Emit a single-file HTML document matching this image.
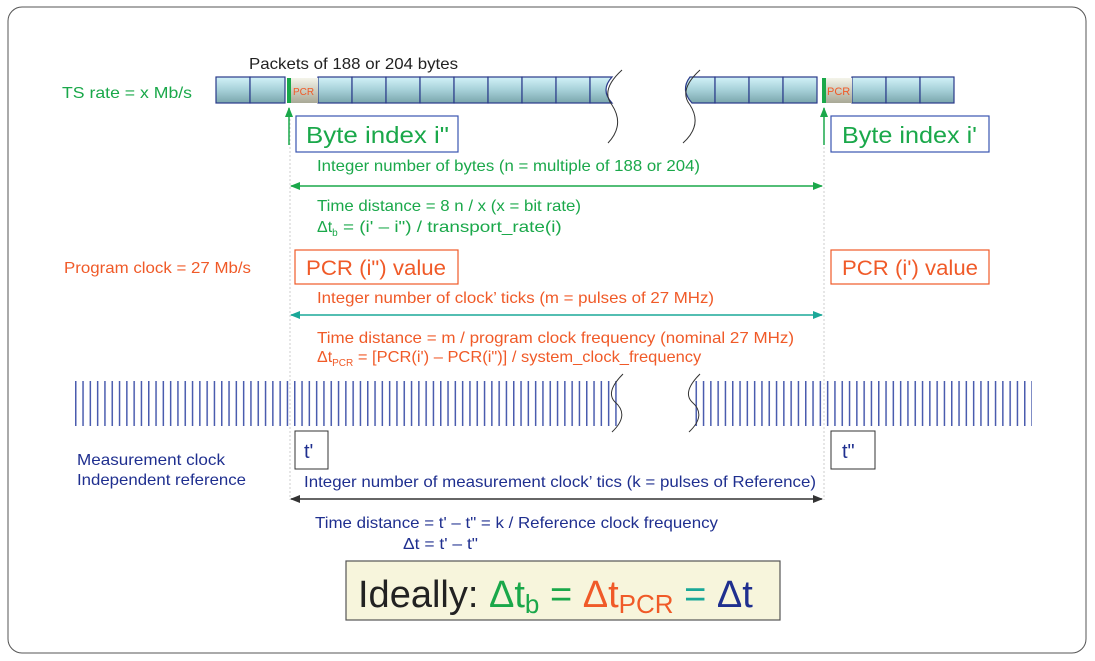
<!DOCTYPE html>
<html><head><meta charset="utf-8"><style>
html,body{margin:0;padding:0;background:#fff;}
svg{display:block;font-family:"Liberation Sans",Arial,sans-serif;}
</style></head><body>
<svg width="1095" height="661" viewBox="0 0 1095 661" xmlns="http://www.w3.org/2000/svg">
<defs>
<linearGradient id="cell" x1="0" y1="0" x2="0" y2="1"><stop offset="0" stop-color="#d2f2f8"/><stop offset="0.5" stop-color="#a6d0d8"/><stop offset="1" stop-color="#7aa6ac"/></linearGradient>
<linearGradient id="pcr" x1="0" y1="0" x2="0" y2="1"><stop offset="0" stop-color="#f4f4ea"/><stop offset="1" stop-color="#a8a896"/></linearGradient>
<pattern id="ticks" x="75" y="0" width="7.3" height="50" patternUnits="userSpaceOnUse"><rect x="0" y="0" width="1.5" height="50" fill="#2a3fa0"/></pattern>
<marker id="ag" markerWidth="10" markerHeight="8" refX="9" refY="4" orient="auto-start-reverse" markerUnits="userSpaceOnUse"><path d="M0,0 L10,4 L0,8z" fill="#1aa84a"/></marker>
<marker id="at" markerWidth="10" markerHeight="8" refX="9" refY="4" orient="auto-start-reverse" markerUnits="userSpaceOnUse"><path d="M0,0 L10,4 L0,8z" fill="#1aa898"/></marker>
<marker id="ak" markerWidth="10" markerHeight="8" refX="9" refY="4" orient="auto-start-reverse" markerUnits="userSpaceOnUse"><path d="M0,0 L10,4 L0,8z" fill="#333"/></marker>
</defs>
<rect x="8" y="7" width="1078" height="646" rx="14" fill="#fff" stroke="#555" stroke-width="1"/>
<line x1="290" y1="115" x2="290" y2="500" stroke="#ccc" stroke-dasharray="2,2"/>
<line x1="824" y1="115" x2="824" y2="500" stroke="#ccc" stroke-dasharray="2,2"/>

<g font-size="16" lengthAdjust="spacingAndGlyphs">
<text x="249" y="69" fill="#222" textLength="209" lengthAdjust="spacingAndGlyphs">Packets of 188 or 204 bytes</text>
<text x="62" y="98" fill="#1aa84a" textLength="130" lengthAdjust="spacingAndGlyphs">TS rate = x Mb/s</text>
<text x="317" y="171" fill="#1aa84a" textLength="383" lengthAdjust="spacingAndGlyphs">Integer number of bytes (n = multiple of 188 or 204)</text>
<text x="317" y="211" fill="#1aa84a" textLength="264" lengthAdjust="spacingAndGlyphs">Time distance = 8 n / x (x = bit rate)</text>
<text x="317" y="232" fill="#1aa84a">Δt<tspan font-size="10" dy="4">b</tspan><tspan dy="-4" textLength="224" lengthAdjust="spacingAndGlyphs"> = (i' – i") / transport_rate(i)</tspan></text>
<text x="64" y="273" fill="#f05a28" textLength="187" lengthAdjust="spacingAndGlyphs">Program clock = 27 Mb/s</text>
<text x="317" y="303" fill="#f05a28" textLength="397" lengthAdjust="spacingAndGlyphs">Integer number of clock’ ticks (m = pulses of 27 MHz)</text>
<text x="317" y="343" fill="#f05a28" textLength="477" lengthAdjust="spacingAndGlyphs">Time distance = m / program clock frequency  (nominal 27 MHz)</text>
<text x="317" y="362" fill="#f05a28">Δt<tspan font-size="10" dy="4">PCR</tspan><tspan dy="-4" textLength="348" lengthAdjust="spacingAndGlyphs"> = [PCR(i') – PCR(i")] / system_clock_frequency</tspan></text>
<text x="77" y="465" fill="#1f2f8f" textLength="148" lengthAdjust="spacingAndGlyphs">Measurement clock</text>
<text x="77" y="485" fill="#1f2f8f" textLength="169" lengthAdjust="spacingAndGlyphs">Independent reference</text>
<text x="304" y="487" fill="#1f2f8f" textLength="512" lengthAdjust="spacingAndGlyphs">Integer number of measurement clock’ tics (k = pulses of Reference)</text>
<text x="315" y="528" fill="#1f2f8f" textLength="403" lengthAdjust="spacingAndGlyphs">Time distance = t' – t" = k / Reference clock frequency</text>
<text x="403" y="549" fill="#1f2f8f" textLength="75" lengthAdjust="spacingAndGlyphs">Δt = t' – t"</text>
</g>

<g stroke="#2a3a8a" stroke-width="1.2" fill="url(#cell)">
<rect x="216" y="77" width="34" height="26"/><rect x="250" y="77" width="35" height="26"/>
<rect x="318" y="77" width="34" height="26"/><rect x="352" y="77" width="34" height="26"/><rect x="386" y="77" width="34" height="26"/><rect x="420" y="77" width="34" height="26"/><rect x="454" y="77" width="34" height="26"/><rect x="488" y="77" width="34" height="26"/><rect x="522" y="77" width="34" height="26"/><rect x="556" y="77" width="34" height="26"/>
<path d="M590,77 L612,77 Q600,90 612,103 L590,103z"/>
<path d="M690,77 Q680,90 692,103 L715,103 L715,77z"/>
<rect x="715" y="77" width="34" height="26"/><rect x="749" y="77" width="34" height="26"/><rect x="783" y="77" width="34" height="26"/>
<rect x="852" y="77" width="34" height="26"/><rect x="886" y="77" width="34" height="26"/><rect x="920" y="77" width="34" height="26"/>
</g>
<rect x="291" y="78" width="27" height="25" fill="url(#pcr)"/>
<rect x="826" y="78" width="26" height="25" fill="url(#pcr)"/>
<rect x="287" y="78" width="4" height="25" fill="#1aa84a"/>
<rect x="822" y="78" width="4" height="25" fill="#1aa84a"/>
<text x="293" y="95" font-size="10" fill="#f05a28">PCR</text>
<text x="827" y="95" font-size="11" fill="#f05a28">PCR</text>
<path d="M622,70 Q600,90 612,105 Q625,125 608,143" fill="none" stroke="#333" stroke-width="1"/>
<path d="M700,70 Q678,90 690,105 Q703,125 683,143" fill="none" stroke="#333" stroke-width="1"/>
<line x1="289" y1="145" x2="289" y2="108" stroke="#1aa84a" stroke-width="1.5" marker-end="url(#ag)"/>
<line x1="824" y1="145" x2="824" y2="108" stroke="#1aa84a" stroke-width="1.5" marker-end="url(#ag)"/>
<rect x="296" y="116" width="162" height="36" fill="#fff" stroke="#3a55b0" stroke-width="1.2"/>
<text x="306" y="143" font-size="23" fill="#1aa84a" textLength="143" lengthAdjust="spacingAndGlyphs">Byte index i"</text>
<rect x="831" y="116" width="158" height="36" fill="#fff" stroke="#3a55b0" stroke-width="1.2"/>
<text x="842" y="143" font-size="23" fill="#1aa84a" textLength="135" lengthAdjust="spacingAndGlyphs">Byte index i'</text>
<line x1="291" y1="186" x2="822" y2="186" stroke="#1aa84a" stroke-width="1.5" marker-start="url(#ag)" marker-end="url(#ag)"/>

<rect x="295" y="250" width="163" height="34" fill="#fff" stroke="#f05a28" stroke-width="1.2"/>
<text x="306" y="275" font-size="21" fill="#f05a28" textLength="140" lengthAdjust="spacingAndGlyphs">PCR (i") value</text>
<rect x="831" y="250" width="158" height="34" fill="#fff" stroke="#f05a28" stroke-width="1.2"/>
<text x="842" y="275" font-size="21" fill="#f05a28" textLength="136" lengthAdjust="spacingAndGlyphs">PCR (i') value</text>
<line x1="291" y1="315" x2="822" y2="315" stroke="#1aa898" stroke-width="1.5" marker-start="url(#at)" marker-end="url(#at)"/>

<rect x="75" y="381" width="547" height="45" fill="url(#ticks)" opacity="0.85"/>
<rect x="694" y="381" width="338" height="45" fill="url(#ticks)" opacity="0.85"/>
<path d="M623,374 Q605,392 615,402 Q630,415 612,432" fill="none" stroke="#333" stroke-width="1"/>
<path d="M700,374 Q682,392 692,402 Q707,415 689,432" fill="none" stroke="#333" stroke-width="1"/>
<rect x="295" y="431" width="33" height="38" fill="#fff" stroke="#333" stroke-width="1"/>
<text x="304" y="458" font-size="20" fill="#1f2f8f">t'</text>
<rect x="831" y="431" width="44" height="38" fill="#fff" stroke="#333" stroke-width="1"/>
<text x="842" y="458" font-size="20" fill="#1f2f8f">t"</text>
<line x1="291" y1="499" x2="822" y2="499" stroke="#333" stroke-width="1.5" marker-start="url(#ak)" marker-end="url(#ak)"/>

<rect x="346" y="561" width="434" height="59" fill="#f7f5dc" stroke="#555" stroke-width="1.2"/>
<text x="358" y="607" font-size="38" fill="#222">Ideally: <tspan fill="#1aa84a">Δt</tspan><tspan fill="#1aa84a" font-size="26" dy="6">b</tspan><tspan fill="#1aa84a" dy="-6"> = </tspan><tspan fill="#f05a28">Δt</tspan><tspan fill="#f05a28" font-size="26" dy="6">PCR</tspan><tspan fill="#1aa898" dy="-6"> = </tspan><tspan fill="#1f2f8f">Δt</tspan></text>
</svg>
</body></html>
